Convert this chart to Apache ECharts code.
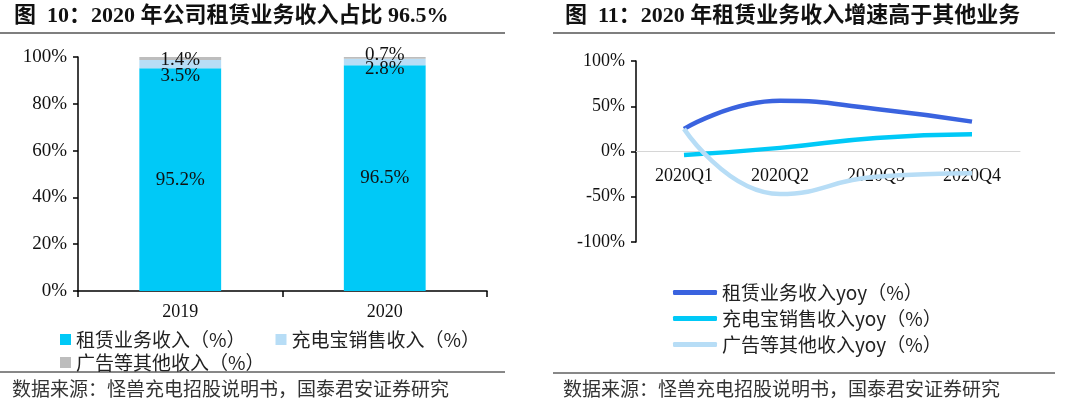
<!DOCTYPE html>
<html><head><meta charset="utf-8">
<script src="https://cdn.jsdelivr.net/npm/echarts@6/dist/echarts.min.js"></script>
<style>html,body{margin:0;padding:0;background:#fff}#c{width:1080px;height:409px}</style>
</head><body><div id="c"></div>
<script>
// Left chart data
const barCategories = ['2019', '2020'];
const rentShare = [95.2, 96.5];
const powerBankShare = [3.5, 2.8];
const otherShare = [1.4, 0.7];
const barYTicks = [0, 20, 40, 60, 80, 100];
// Right chart data
const quarters = ['2020Q1', '2020Q2', '2020Q3', '2020Q4'];
const rentYoy = [25, 56, 47, 33];
const powerBankYoy = [-4, 4, 15, 19];
const otherYoy = [25, -47, -28, -24];

const serif = 'Liberation Serif, Noto Sans CJK SC, serif';
const cjk = 'Noto Sans CJK SC, sans-serif';
const mixed = 'Liberation Serif, Noto Sans CJK SC';

const names = {
  rent: '租赁业务收入（%）', pb: '充电宝销售收入（%）', other: '广告等其他收入（%）',
  rentY: '租赁业务收入yoy（%）', pbY: '充电宝销售收入yoy（%）', otherY: '广告等其他收入yoy（%）'
};
const cCyan = '#00C9F7', cLight = '#B7DDF6', cGrey = '#BDBDBD', cBlue = '#3A63DF';

const chart = echarts.init(document.getElementById('c'), null, {renderer: 'canvas'});
const barLabel = {show: true, position: 'inside', color: '#111', fontFamily: serif, fontSize: 19,
  formatter: p => p.value.toFixed(1) + '%'};
// label offsets (layout only)
const pbOffsets = [[0, 12], [0, 7]];
const otherOffsets = [[0, 1], [0, -3]];
const withOffsets = (vals, offs) => vals.map((v, i) => ({value: v, label: {offset: offs[i]}}));

chart.setOption({
  animation: false,
  graphic: [
    {type: 'text', left: 14, top: 5, style: {text: '图  10：2020 年公司租赁业务收入占比 96.5%', font: 'bold 22px ' + mixed, fill: '#111'}},
    {type: 'line', shape: {x1: 0, y1: 33, x2: 505, y2: 33}, style: {stroke: '#555', lineWidth: 1.5}},
    {type: 'text', left: 565, top: 5, style: {text: '图  11：2020 年租赁业务收入增速高于其他业务', font: 'bold 22px ' + mixed, fill: '#111'}},
    {type: 'line', shape: {x1: 553, y1: 33, x2: 1055, y2: 33}, style: {stroke: '#555', lineWidth: 1.5}},
    {type: 'line', shape: {x1: 0, y1: 372, x2: 505, y2: 372}, style: {stroke: '#111', lineWidth: 1}},
    {type: 'line', shape: {x1: 553, y1: 373, x2: 1055, y2: 373}, style: {stroke: '#111', lineWidth: 1}},
    {type: 'text', left: 12, top: 379, style: {text: '数据来源：怪兽充电招股说明书，国泰君安证券研究', font: '19px ' + cjk, fill: '#333'}},
    {type: 'text', left: 563, top: 379, style: {text: '数据来源：怪兽充电招股说明书，国泰君安证券研究', font: '19px ' + cjk, fill: '#333'}}
  ],
  legend: [
    {left: 55, top: 325, itemWidth: 11, itemHeight: 11, itemGap: 30, icon: 'rect',
      textStyle: {fontFamily: cjk, fontSize: 19, color: '#222'}, data: [names.rent, names.pb]},
    {left: 55, top: 348, itemWidth: 11, itemHeight: 11, icon: 'rect',
      textStyle: {fontFamily: cjk, fontSize: 19, color: '#222'}, data: [names.other]},
    {left: 668, top: 278, orient: 'vertical', itemWidth: 44, itemHeight: 5, itemGap: 7, icon: 'roundRect',
      textStyle: {fontFamily: cjk, fontSize: 19, color: '#222'}, data: [names.rentY, names.pbY, names.otherY]}
  ],
  grid: [
    {left: 78, right: 593, top: 57, bottom: 118},
    {left: 636, right: 60, top: 61, bottom: 167}
  ],
  xAxis: [
    {type: 'category', gridIndex: 0, data: barCategories,
      axisLine: {lineStyle: {color: '#000', width: 1.5}},
      axisTick: {show: true, length: 6, lineStyle: {color: '#000', width: 1.5}},
      axisLabel: {fontFamily: serif, fontSize: 18, color: '#111', margin: 12}},
    {type: 'category', gridIndex: 1, data: quarters,
      axisLine: {onZero: true, lineStyle: {color: '#D6D6D6', width: 1}},
      axisTick: {show: false},
      axisLabel: {fontFamily: serif, fontSize: 18, color: '#111', margin: -75}}
  ],
  yAxis: [
    {type: 'value', gridIndex: 0, min: 0, max: 100, interval: 20,
      axisLine: {show: true, lineStyle: {color: '#000', width: 1.5}},
      axisTick: {show: true, length: 5, lineStyle: {color: '#000', width: 1.5}},
      splitLine: {show: false},
      axisLabel: {fontFamily: serif, fontSize: 19, color: '#111', margin: 11, formatter: v => v + '%'}},
    {type: 'value', gridIndex: 1, min: -100, max: 100, interval: 50,
      axisLine: {show: true, lineStyle: {color: '#000', width: 1.5}},
      axisTick: {show: true, length: 5, lineStyle: {color: '#000', width: 1.5}},
      splitLine: {show: false},
      axisLabel: {fontFamily: serif, fontSize: 18, color: '#111', margin: 11, formatter: v => v + '%'}}
  ],
  series: [
    {name: names.rent, type: 'bar', stack: 's', xAxisIndex: 0, yAxisIndex: 0, barWidth: '40%',
      itemStyle: {color: cCyan}, label: barLabel, data: rentShare},
    {name: names.pb, type: 'bar', stack: 's', xAxisIndex: 0, yAxisIndex: 0, barWidth: '40%',
      itemStyle: {color: cLight}, label: barLabel, data: withOffsets(powerBankShare, pbOffsets)},
    {name: names.other, type: 'bar', stack: 's', xAxisIndex: 0, yAxisIndex: 0, barWidth: '40%',
      itemStyle: {color: cGrey}, label: barLabel, data: withOffsets(otherShare, otherOffsets)},
    {name: names.rentY, type: 'line', xAxisIndex: 1, yAxisIndex: 1, smooth: 0.5, showSymbol: false,
      lineStyle: {color: cBlue, width: 4.5}, itemStyle: {color: cBlue}, data: rentYoy},
    {name: names.pbY, type: 'line', xAxisIndex: 1, yAxisIndex: 1, smooth: 0.5, showSymbol: false,
      lineStyle: {color: cCyan, width: 4.5}, itemStyle: {color: cCyan}, data: powerBankYoy},
    {name: names.otherY, type: 'line', xAxisIndex: 1, yAxisIndex: 1, smooth: 0.5, showSymbol: false,
      lineStyle: {color: cLight, width: 4.5}, itemStyle: {color: cLight}, data: otherYoy}
  ]
});
</script></body></html>
